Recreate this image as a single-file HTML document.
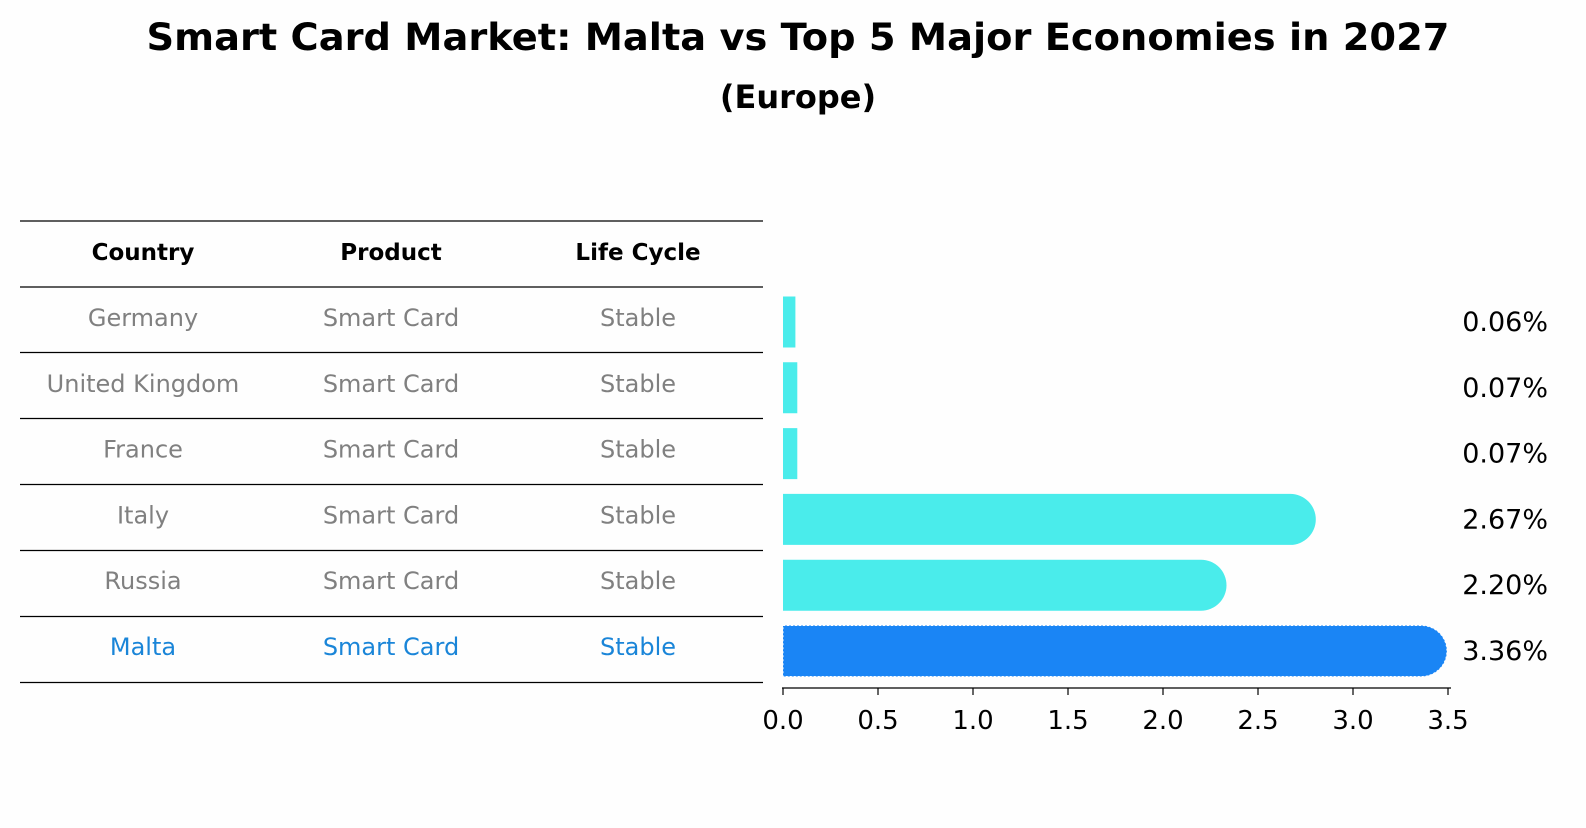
<!DOCTYPE html>
<html><head><meta charset="utf-8"><style>
body{margin:0;background:#fefefe;font-family:"Liberation Sans","DejaVu Sans",sans-serif;}
svg text{font-family:"DejaVu Sans","Liberation Sans",sans-serif;}
</style></head><body>
<svg width="1586" height="823" viewBox="0 0 1586 823" xmlns="http://www.w3.org/2000/svg">
<rect width="1586" height="823" fill="#fefefe"/>
<text x="798" y="50" text-anchor="middle" font-size="37" font-weight="bold" textLength="1303" lengthAdjust="spacingAndGlyphs">Smart Card Market: Malta vs Top 5 Major Economies in 2027</text>
<text x="798" y="108" text-anchor="middle" font-size="32" font-weight="bold">(Europe)</text>
<g id="table"></g>
<g id="bars"></g>
<g id="axis"></g>
</svg>
<script>
const countries=["Germany","United Kingdom","France","Italy","Russia","Malta"];
const products=["Smart Card","Smart Card","Smart Card","Smart Card","Smart Card","Smart Card"];
const lifeCycles=["Stable","Stable","Stable","Stable","Stable","Stable"];
const values=[0.06,0.07,0.07,2.67,2.20,3.36];
const valueLabels=["0.06%","0.07%","0.07%","2.67%","2.20%","3.36%"];
const ticks=[0,0.5,1,1.5,2,2.5,3,3.5];
const tickLabels=["0.0","0.5","1.0","1.5","2.0","2.5","3.0","3.5"];
const NS="http://www.w3.org/2000/svg";
function mk(tag,attrs,parent,text){const e=document.createElementNS(NS,tag);for(const k in attrs)e.setAttribute(k,attrs[k]);if(text!==undefined)e.textContent=text;parent.appendChild(e);return e;}
const xs=v=>783+v*190;
const rowY=i=>320+i*65.8;
const tbl=document.getElementById('table');
const lines=[221,287,352.5,418.5,484.5,550.5,616.5,682.5];
lines.forEach(y=>{const l=mk('line',{x1:20,x2:763,y1:y,y2:y,stroke:'#000','stroke-width':1.2},tbl);

});
const cx=[143,391,638];
["Country","Product","Life Cycle"].forEach((h,j)=>{const t=mk('text',{x:cx[j],y:260,'text-anchor':'middle','font-size':23,'font-weight':'bold'},tbl,h);

});
countries.forEach((c,i)=>{const col=i===5?'#1a85d8':'#808080';const y=rowY(i)+6;
[c,products[i],lifeCycles[i]].forEach((v,j)=>{const t=mk('text',{x:cx[j],y:y,'text-anchor':'middle','font-size':24,fill:col},tbl,v);

});});
const bars=document.getElementById('bars');
values.forEach((v,i)=>{const yc=rowY(i)+2,h=51;const col=i===5?'#1a85f5':'#4aeceb';
const g=mk('g',{},bars);


const x1=xs(v);
let d;
if(v>1){d=`M${xs(0)},${yc-h/2} H${x1} A${h/2},${h/2} 0 0 1 ${x1},${yc+h/2} H${xs(0)} Z`;}
else d=`M${xs(0)},${yc-h/2} H${x1+1} V${yc+h/2} H${xs(0)} Z`;
mk('path',{d:d,fill:col},g);
if(i===5)mk('path',{d:d,fill:'none',stroke:'#ffffff','stroke-width':1,'stroke-dasharray':'2,2'},g);
const t=mk('text',{x:1548,y:yc+9,'text-anchor':'end','font-size':27},bars,valueLabels[i]);

});
const ax=document.getElementById('axis');
mk('line',{x1:782,x2:1451,y1:688,y2:688,stroke:'#000','stroke-width':1.2},ax);
ticks.forEach((v,i)=>{mk('line',{x1:xs(v),x2:xs(v),y1:688,y2:695,stroke:'#000','stroke-width':1.2},ax);
const t=mk('text',{x:xs(v),y:729,'text-anchor':'middle','font-size':26},ax,tickLabels[i]);

});
</script>
</body></html>
